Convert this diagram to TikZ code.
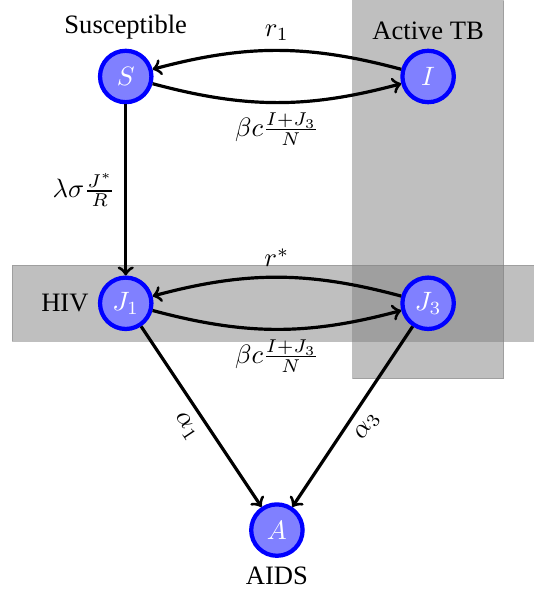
\documentclass[tikz,border=0pt]{standalone}
\usepackage[no-math]{fontspec}
\setmainfont{Liberation Serif}
\usepackage{amsmath}

\begin{document}
\begin{tikzpicture}[
    state/.style={circle, draw=blue, ultra thick, fill=blue!50, text=white, minimum size=0.68cm, inner sep=0pt},
    flow/.style={->, very thick},
    group/.style={draw=gray, fill=gray, opacity=0.5}
  ]
  \useasboundingbox (-1.663,1.012) rectangle (5.388,-6.938);
  % compartments
  \draw[group] (3,1) rectangle (5,-4);
  \draw[group] (-1.5,-2.5) rectangle (5.5,-3.5);
  \node[state, label=above:Susceptible] (S) at (0,0) {$S$};
  \node[state, label=above:Active TB] (I) at (4,0) {$I$};
  \node[state, label=left:HIV] (J1) at (0,-3) {$J_1$};
  \node[state] (J3) at (4,-3) {$J_3$};
  \node[state, label=below:AIDS] (A) at (2,-6) {$A$};
  % transitions
  \draw[flow] (I) to[bend right=15] node[above] {$r_1$} (S);
  \draw[flow] (S) to[bend right=15] node[below] {$\beta c\frac{I+J_3}{N}$} (I);
  \draw[flow] (S) -- node[left] {$\lambda\sigma\frac{J^*}{R}$} (J1);
  \draw[flow] (J3) to[bend right=15] node[above] {$r^*$} (J1);
  \draw[flow] (J1) to[bend right=15] node[below] {$\beta c\frac{I+J_3}{N}$} (J3);
  \draw[flow] (J1) -- node[sloped, below] {$\alpha_1$} (A);
  \draw[flow] (J3) -- node[sloped, below] {$\alpha_3$} (A);
\end{tikzpicture}
\end{document}
